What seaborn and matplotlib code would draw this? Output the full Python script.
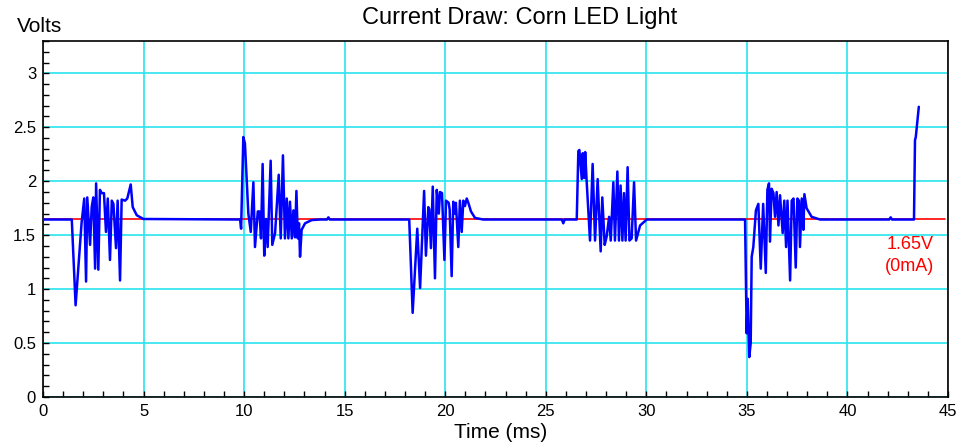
import seaborn as sns
import matplotlib.pyplot as plt
import matplotlib.ticker as ticker
import pandas as pd

sns.set_style("white")
plt.rcParams.update({'font.family': ['Liberation Sans', 'DejaVu Sans'],
                     'text.color': 'black', 'axes.labelcolor': 'black',
                     'xtick.color': 'black', 'ytick.color': 'black'})

## Values (time in ms, volts)
burst1_t = [0.0, 1.43, 1.62, 1.92, 2.05, 2.14, 2.20, 2.34, 2.42, 2.50, 2.59, 2.64, 2.75,
            2.83, 2.91, 3.03, 3.13, 3.22, 3.33, 3.42, 3.50, 3.63, 3.71, 3.83, 3.91, 4.08,
            4.19, 4.36, 4.46, 4.66, 4.99]
burst1_v = [1.645, 1.645, 0.85, 1.62, 1.84, 1.07, 1.85, 1.41, 1.76, 1.85, 1.19, 1.98, 1.18,
            1.92, 1.89, 1.89, 1.53, 1.84, 1.27, 1.82, 1.79, 1.38, 1.82, 1.08, 1.83, 1.82,
            1.84, 1.97, 1.76, 1.685, 1.65]

burst2_t = [9.80, 9.85, 9.96, 10.04, 10.21, 10.33, 10.46, 10.54, 10.68, 10.76, 10.84, 10.92,
            11.00, 11.09, 11.17, 11.32, 11.40, 11.54, 11.60, 11.72, 11.82, 11.93, 12.03,
            12.12, 12.20, 12.28, 12.37, 12.45, 12.53, 12.60, 12.67, 12.73, 12.78, 12.86,
            13.03, 13.36, 13.78, 14.12, 14.19, 14.26]
burst2_v = [1.645, 1.56, 2.41, 2.35, 1.70, 1.53, 1.99, 1.39, 1.72, 1.72, 1.47, 2.16,
            1.31, 1.65, 1.39, 2.19, 1.41, 1.52, 1.70, 2.06, 1.47, 2.24, 1.47,
            1.84, 1.47, 1.81, 1.47, 1.73, 1.48, 1.91, 1.47, 1.61, 1.30, 1.55,
            1.61, 1.64, 1.645, 1.645, 1.665, 1.645]

burst3_t = [18.21, 18.38, 18.61, 18.75, 18.95, 19.04, 19.16, 19.21, 19.29, 19.38, 19.49,
            19.58, 19.68, 19.74, 19.84, 19.96, 20.04, 20.17, 20.22, 20.32, 20.40, 20.48,
            20.53, 20.65, 20.73, 20.82, 20.90, 20.98, 21.07, 21.15, 21.28, 21.48, 21.89]
burst3_v = [1.645, 0.78, 1.56, 1.01, 1.91, 1.31, 1.76, 1.74, 1.38, 1.95, 1.10,
            1.92, 1.70, 1.90, 1.89, 1.27, 1.82, 1.80, 1.74, 1.12, 1.81, 1.70,
            1.80, 1.39, 1.82, 1.53, 1.82, 1.77, 1.84, 1.80, 1.72, 1.66, 1.645]

burst4_t = [25.80, 25.87, 25.94, 26.54, 26.62, 26.67, 26.79, 26.84, 26.91, 26.96, 27.03,
            27.20, 27.33, 27.45, 27.58, 27.73, 27.81, 27.93, 28.03, 28.15, 28.23, 28.36,
            28.44, 28.56, 28.64, 28.72, 28.81, 28.89, 28.97, 29.07, 29.16, 29.27, 29.39,
            29.49, 29.69, 30.02]
burst4_v = [1.645, 1.61, 1.645, 1.645, 2.28, 2.29, 2.02, 2.26, 2.03, 2.27, 2.01,
            1.45, 2.16, 1.45, 2.02, 1.35, 1.85, 1.41, 1.49, 1.67, 1.45, 1.99,
            1.45, 2.09, 1.45, 1.96, 1.45, 1.89, 1.45, 2.13, 1.45, 1.47, 1.99,
            1.45, 1.59, 1.645]

burst5_t = [34.91, 34.99, 35.04, 35.12, 35.19, 35.24, 35.32, 35.45, 35.57, 35.69, 35.81,
            35.94, 36.02, 36.10, 36.15, 36.23, 36.32, 36.40, 36.48, 36.57, 36.65, 36.78,
            36.86, 36.95, 37.02, 37.15, 37.23, 37.32, 37.43, 37.51, 37.59, 37.64, 37.73,
            37.81, 37.86, 37.97, 38.22, 38.64]
burst5_v = [1.645, 0.59, 0.91, 0.37, 0.50, 1.30, 1.39, 1.73, 1.79, 1.19, 1.79,
            1.15, 1.92, 1.98, 1.44, 1.93, 1.89, 1.67, 1.90, 1.59, 1.87, 1.52,
            1.82, 1.39, 1.82, 1.08, 1.82, 1.84, 1.20, 1.84, 1.82, 1.39, 1.84,
            1.55, 1.88, 1.75, 1.67, 1.645]

tail_t = [42.08, 42.15, 42.22, 43.31, 43.36, 43.40, 43.55]
tail_v = [1.645, 1.665, 1.645, 1.645, 2.38, 2.41, 2.69]

ref_volts = 1.65
ref_span = [0.0, 44.85]

x_major = list(range(0, 46, 5))
y_major = [0, 0.5, 1, 1.5, 2, 2.5, 3]
y_labels = ["0", "0.5", "1", "1.5", "2", "2.5", "3"]

data = pd.DataFrame({
    "Time (ms)": burst1_t + burst2_t + burst3_t + burst4_t + burst5_t + tail_t,
    "Volts": burst1_v + burst2_v + burst3_v + burst4_v + burst5_v + tail_v,
})
ref = pd.DataFrame({"Time (ms)": ref_span, "Volts": [ref_volts, ref_volts]})

fig = plt.figure(figsize=(9.69, 4.45), dpi=100)
ax = fig.add_axes([0.0444, 0.1079, 0.9339, 0.800])

#--reference line and trace
sns.lineplot(x="Time (ms)", y="Volts", data=ref, ax=ax, color="#ff0000", linewidth=1.2, zorder=3)
sns.lineplot(x="Time (ms)", y="Volts", data=data, ax=ax, color="#0000ff", linewidth=1.8,
             estimator=None, sort=False, zorder=4)

ax.set_xlim(0, 45)
ax.set_ylim(0, 3.3)
ax.set_xticks(x_major)
ax.set_yticks(y_major)
ax.set_yticklabels(y_labels)
ax.xaxis.set_minor_locator(ticker.MultipleLocator(1))
ax.yaxis.set_minor_locator(ticker.MultipleLocator(0.1))
ax.tick_params(which="both", direction="in", colors="black", labelsize=12,
               top=False, right=False, bottom=True, left=True)
ax.tick_params(which="major", length=4, width=1, pad=5)
ax.tick_params(which="minor", length=4, width=1)
ax.grid(True, which="major", color="#28e4f0", linewidth=1.2)
for s in ax.spines.values():
    s.set_visible(True)
    s.set_color("black")
    s.set_linewidth(1.2)

ax.set_xlabel("")
ax.set_ylabel("")
fig.text(501 / 969, 1 - 433 / 445, "Time (ms)", fontsize=15, ha="center", va="center")
fig.text(40 / 969, 1 - 26 / 445, "Volts", fontsize=15, ha="center", va="center")
fig.text(520 / 969, 1 - 18 / 445, "Current Draw: Corn LED Light", fontsize=17, ha="center", va="center")
ax.text(43.1, 1.31, "1.65V\n(0mA)", color="#ff0000", fontsize=13, ha="center", va="center",
        linespacing=1.4)

fig.savefig("out.png", dpi=100)
plt.close()
